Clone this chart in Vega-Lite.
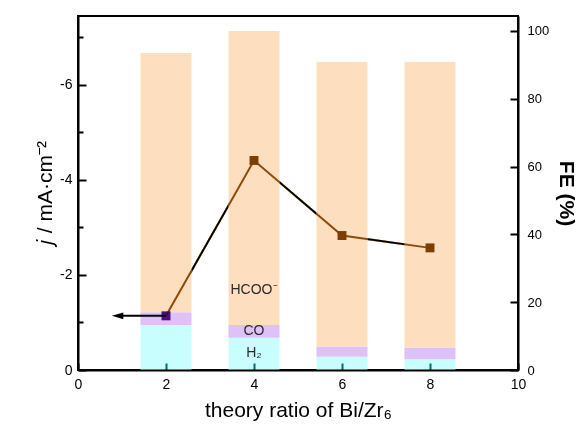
{
  "$schema": "https://vega.github.io/schema/vega-lite/v6.json",
  "width": 440,
  "height": 354,
  "autosize": {"type": "none"},
  "padding": {"left": 78, "top": 16, "right": 69, "bottom": 71},
  "background": "white",
  "config": {
    "font": "Liberation Sans",
    "view": {"stroke": "#000", "strokeWidth": 2},
    "axis": {
      "grid": false,
      "domainColor": "#000",
      "domainWidth": 2,
      "tickColor": "#000",
      "tickWidth": 2,
      "labelFont": "Liberation Sans",
      "labelFontSize": 13,
      "labelColor": "#000",
      "labelFlush": false,
      "titleFont": "Liberation Sans",
      "titleColor": "#000",
      "zindex": 2
    }
  },
  "datasets": {
    "fe": [
      {"ratio": 2, "gas": "H2", "ord": 1, "fe": 13.3},
      {"ratio": 2, "gas": "CO", "ord": 2, "fe": 3.7},
      {"ratio": 2, "gas": "HCOO-", "ord": 3, "fe": 76.5},
      {"ratio": 4, "gas": "H2", "ord": 1, "fe": 9.5},
      {"ratio": 4, "gas": "CO", "ord": 2, "fe": 3.8},
      {"ratio": 4, "gas": "HCOO-", "ord": 3, "fe": 86.7},
      {"ratio": 6, "gas": "H2", "ord": 1, "fe": 3.9},
      {"ratio": 6, "gas": "CO", "ord": 2, "fe": 3.0},
      {"ratio": 6, "gas": "HCOO-", "ord": 3, "fe": 83.9},
      {"ratio": 8, "gas": "H2", "ord": 1, "fe": 3.2},
      {"ratio": 8, "gas": "CO", "ord": 2, "fe": 3.4},
      {"ratio": 8, "gas": "HCOO-", "ord": 3, "fe": 84.2}
    ],
    "current": [
      {"ratio": 2, "j": -1.14},
      {"ratio": 4, "j": -4.41},
      {"ratio": 6, "j": -2.83},
      {"ratio": 8, "j": -2.57}
    ],
    "labels": [
      {"ratio": 4, "fe": 23.6, "text": "HCOO⁻"},
      {"ratio": 4, "fe": 11.4, "text": "CO"},
      {"ratio": 4, "fe": 5.0, "text": "H₂"}
    ],
    "arrow": [
      {"from": 2, "to": 0.9, "j": -1.14}
    ]
  },
  "layer": [
    {
      "data": {"name": "current"},
      "encoding": {
        "x": {
          "field": "ratio",
          "type": "quantitative",
          "scale": {"domain": [0, 10], "nice": false, "zero": false, "padding": 0},
          "axis": {
            "values": [0, 2, 4, 6, 8, 10],
            "format": "d",
            "tickSize": -7,
            "tickColor": {"condition": {"test": "datum.value == 0 || datum.value == 10", "value": "#000"}, "value": "#0d6b6a"},
            "tickWidth": 2,
            "labelPadding": 14,
            "labelFontSize": 14,
            "title": "theory ratio of Bi/Zr₆",
            "titleFontSize": 21,
            "titleFontWeight": "normal",
            "titlePadding": 8,
            "zindex": 2
          }
        },
        "y": {
          "field": "j",
          "type": "quantitative",
          "scale": {"domain": [0, -7.45], "nice": false, "zero": false},
          "axis": {
            "orient": "left",
            "values": [0, -1, -2, -3, -4, -5, -6, -7],
            "tickSize": {"condition": {"test": "datum.value % 2 == 0", "value": -8}, "value": -5},
            "labelExpr": "datum.value % 2 == 0 ? (datum.value == 0 ? '0' : '-' + abs(datum.value)) : ''",
            "labelPadding": 14,
            "labelFontSize": 14,
            "title": "𝑗 / mA·cm⁻²",
            "titleFontSize": 21,
            "titleFontWeight": "normal",
            "titlePadding": 4
          }
        }
      },
      "layer": [
        {"mark": {"type": "line", "color": "#000", "strokeWidth": 2}},
        {"mark": {"type": "point", "shape": "square", "filled": true, "size": 80, "opacity": 1, "color": "#000"}}
      ]
    },
    {
      "encoding": {
        "x": {"field": "ratio", "type": "quantitative"}
      },
      "layer": [
        {
          "data": {"name": "fe"},
          "mark": {"type": "bar", "width": 51},
          "encoding": {
            "y": {
              "field": "fe",
              "type": "quantitative",
              "stack": "zero",
              "scale": {"domain": [0, 104.4], "nice": false, "zero": true},
              "axis": {
                "orient": "right",
                "values": [0, 20, 40, 60, 80, 100],
                "tickSize": -8,
                "labelPadding": 17,
                "labelFontSize": 13,
                "title": "FE (%)",
                "titleFontSize": 21,
                "titleFontWeight": "bold",
                "titlePadding": 7
              }
            },
            "color": {
              "field": "gas",
              "type": "nominal",
              "scale": {"domain": ["H2", "CO", "HCOO-"], "range": ["#C9FEFE", "#DEC2F7", "#FDDFC0"]},
              "legend": null
            },
            "order": {"field": "ord", "type": "quantitative"}
          }
        },
        {
          "data": {"name": "labels"},
          "mark": {"type": "text", "font": "Liberation Sans", "fontSize": 14, "color": "#2a2a2a", "baseline": "middle"},
          "encoding": {
            "y": {"field": "fe", "type": "quantitative"},
            "text": {"field": "text"}
          }
        }
      ]
    },
    {
      "encoding": {
        "x": {"field": "ratio", "type": "quantitative"},
        "y": {
          "field": "j",
          "type": "quantitative",
          "scale": {"domain": [0, -7.45], "nice": false, "zero": false},
          "axis": null
        }
      },
      "layer": [
        {
          "data": {"name": "current"},
          "mark": {"type": "line", "color": "#8C4A08", "strokeWidth": 2, "blend": "darken"}
        },
        {
          "data": {"name": "current"},
          "mark": {"type": "point", "shape": "square", "filled": true, "size": 80, "opacity": 1, "blend": "darken"},
          "encoding": {
            "color": {
              "condition": {"test": "datum.ratio == 2", "value": "#4B0C82"},
              "value": "#7E3E00"
            }
          }
        },
        {
          "data": {"name": "arrow"},
          "mark": {"type": "rule", "color": "#000", "strokeWidth": 2},
          "encoding": {
            "x": {"field": "from", "type": "quantitative"},
            "x2": {"field": "to"}
          }
        },
        {
          "data": {"name": "arrow"},
          "mark": {"type": "point", "shape": "M -1 0 L 1 -0.6 L 1 0.6 Z", "filled": true, "size": 130, "opacity": 1, "color": "#000"},
          "encoding": {
            "x": {"field": "to", "type": "quantitative"}
          }
        }
      ]
    }
  ],
  "resolve": {"scale": {"y": "independent"}}
}
